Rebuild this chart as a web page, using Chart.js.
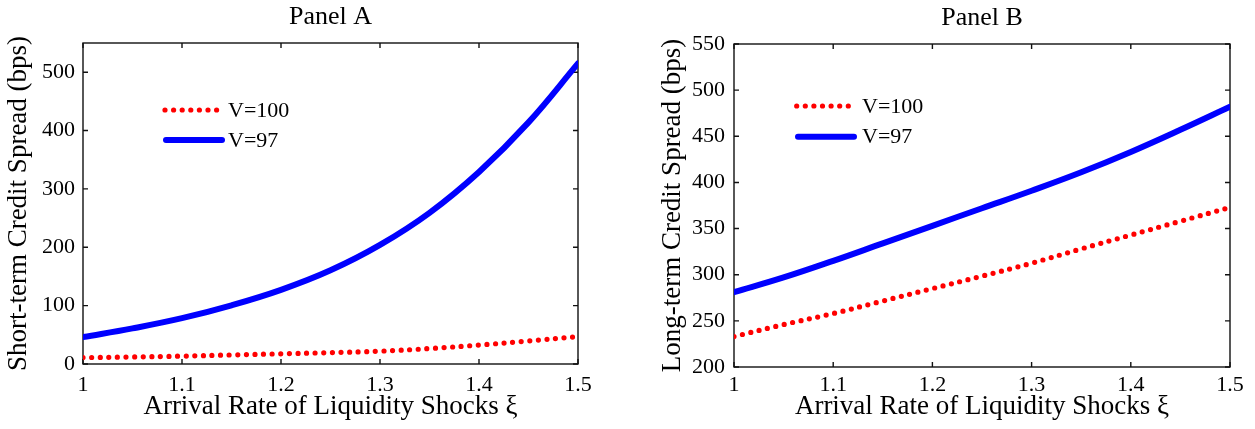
<!DOCTYPE html>
<html>
<head>
<meta charset="utf-8">
<script src="https://cdn.jsdelivr.net/npm/chart.js@4/dist/chart.umd.min.js"></script>
<style>
  html, body { margin: 0; padding: 0; background: #fff; }
  #wrap { position: relative; width: 1255px; height: 429px; overflow: hidden; }
  .panel { position: absolute; top: 0; height: 429px; }
  #pa { left: 0; width: 620px; }
  #pb { left: 630px; width: 625px; }
</style>
</head>
<body>
<div id="wrap">
  <div class="panel" id="pa"><canvas id="ca"></canvas></div>
  <div class="panel" id="pb"><canvas id="cb"></canvas></div>
</div>
<script>
// Arrival rate of liquidity shocks (xi)
const xi = [1.00, 1.05, 1.10, 1.15, 1.20, 1.25, 1.30, 1.35, 1.40, 1.45, 1.50];

// Panel A: short-term credit spread (bps)
const shortV100 = [11, 12, 13.5, 15.5, 17.5, 19.5, 22, 26.5, 32.5, 39.5, 47];
const shortV97  = [46, 61, 78.5, 100.5, 127, 160.5, 204, 259, 329, 414, 515];

// Panel B: long-term credit spread (bps)
const longV100 = [233, 246, 258, 271.5, 285, 298.5, 312.5, 328, 343, 358, 373];
const longV97  = [281, 297, 315, 334, 353, 372, 391, 411, 433, 457, 482];

// Tick labels
const xTicks = [1, 1.1, 1.2, 1.3, 1.4, 1.5];
const yTicksShort = [0, 100, 200, 300, 400, 500];
const yTicksLong = [200, 250, 300, 350, 400, 450, 500, 550];

const seriesLabels = ['V=100', 'V=97'];
const panelTitles = ['Panel A', 'Panel B'];
const xTitle = 'Arrival Rate of Liquidity Shocks \u03BE';
const yTitles = ['Short-term Credit Spread (bps)', 'Long-term Credit Spread (bps)'];

const FONT = "'Liberation Serif', 'Times New Roman', Times, serif";
Chart.defaults.font.family = FONT;
Chart.defaults.color = '#000';

// Box around the plot area with inward tick marks on all four sides
const frame = {
  id: 'frame',
  beforeDatasetsDraw(chart, args, o) {
    const { ctx, chartArea: a, scales: { x, y } } = chart;
    ctx.save();
    ctx.strokeStyle = o.color;
    ctx.lineWidth = o.width;
    ctx.beginPath();
    x.ticks.forEach(t => {
      const px = x.getPixelForValue(t.value);
      ctx.moveTo(px, a.bottom); ctx.lineTo(px, a.bottom - o.tick);
      ctx.moveTo(px, a.top); ctx.lineTo(px, a.top + o.tick);
    });
    y.ticks.forEach(t => {
      const py = y.getPixelForValue(t.value);
      ctx.moveTo(a.left, py); ctx.lineTo(a.left + o.tick, py);
      ctx.moveTo(a.right, py); ctx.lineTo(a.right - o.tick, py);
    });
    ctx.stroke();
    ctx.strokeRect(a.left, a.top, a.right - a.left, a.bottom - a.top);
    ctx.restore();
  }
};

// Line-sample key drawn inside the plot area, styled from each dataset
const keyBox = {
  id: 'keyBox',
  afterDatasetsDraw(chart, args, o) {
    const { ctx, chartArea: a } = chart;
    chart.data.datasets.forEach((ds, i) => {
      const yy = a.top + o.rows[i];
      ctx.save();
      ctx.strokeStyle = ds.borderColor;
      ctx.lineWidth = ds.borderWidth;
      ctx.lineCap = 'round';
      ctx.setLineDash(ds.borderDash || []);
      ctx.beginPath();
      ctx.moveTo(a.left + o.starts[i], yy);
      ctx.lineTo(a.left + o.ends[i], yy);
      ctx.stroke();
      ctx.setLineDash([]);
      ctx.fillStyle = '#000';
      ctx.font = o.font;
      ctx.textAlign = 'left';
      ctx.textBaseline = 'middle';
      ctx.fillText(ds.label, a.left + o.textX, yy + 1);
      ctx.restore();
    });
  }
};

function series(ys) {
  return xi.map((x, i) => ({ x: x, y: ys[i] }));
}

function makeChart(id, cfg) {
  return new Chart(document.getElementById(id), {
    type: 'line',
    data: {
      datasets: [
        {
          label: seriesLabels[0],
          data: series(cfg.v100),
          borderColor: '#ff0000',
          borderWidth: 5.2,
          borderDash: [0, 8.6],
          borderCapStyle: 'round',
          pointRadius: 0,
          pointHoverRadius: 0,
          tension: 0.4,
          fill: false
        },
        {
          label: seriesLabels[1],
          data: series(cfg.v97),
          borderColor: '#0000ff',
          borderWidth: 6,
          borderCapStyle: 'round',
          borderJoinStyle: 'round',
          pointRadius: 0,
          pointHoverRadius: 0,
          tension: 0.4,
          fill: false
        }
      ]
    },
    options: {
      responsive: true,
      maintainAspectRatio: false,
      animation: false,
      events: [],
      layout: { padding: { left: 0, right: cfg.padRight, top: 0, bottom: 0 } },
      scales: {
        x: {
          type: 'linear',
          min: 1,
          max: 1.5,
          afterBuildTicks: s => { s.ticks = xTicks.map(v => ({ value: v })); },
          afterFit: s => { s.height = cfg.xHeight; },
          grid: { display: false, drawTicks: false },
          border: { display: false },
          ticks: {
            font: { size: 22 },
            color: '#000',
            padding: cfg.xTickPad,
            maxRotation: 0,
            autoSkip: false,
            callback: v => String(v)
          },
          title: {
            display: true,
            text: xTitle,
            font: { size: 27 },
            color: '#000',
            padding: { top: 0, bottom: 5.8 }
          }
        },
        y: {
          type: 'linear',
          min: cfg.yMin,
          max: 550,
          afterBuildTicks: s => { s.ticks = cfg.yTicks.map(v => ({ value: v })); },
          afterFit: s => { s.width = cfg.yWidth; },
          grid: { display: false, drawTicks: false },
          border: { display: false },
          ticks: {
            font: { size: 22 },
            color: '#000',
            padding: cfg.yTickPad,
            autoSkip: false
          },
          title: {
            display: true,
            text: cfg.yTitle,
            font: { size: 27 },
            color: '#000',
            padding: { top: cfg.yTitlePad, bottom: 0 }
          }
        }
      },
      plugins: {
        legend: { display: false },
        tooltip: { enabled: false },
        title: {
          display: true,
          fullSize: false,
          text: cfg.title,
          color: '#000',
          font: { size: 26, weight: 'normal' },
          padding: { top: cfg.titlePadTop, bottom: cfg.titlePadBottom }
        },
        frame: { color: '#111', width: 1.4, tick: 5 },
        keyBox: cfg.key
      }
    },
    plugins: [frame, keyBox]
  });
}

makeChart('ca', {
  title: panelTitles[0],
  yTitle: yTitles[0],
  v100: shortV100,
  v97: shortV97,
  yMin: 0,
  yTicks: yTicksShort,
  padRight: 42,
  xHeight: 65,
  yWidth: 83,
  xTickPad: 7.8,
  yTickPad: 8,
  yTitlePad: 2.3,
  titlePadTop: 1.6,
  titlePadBottom: 10.2,
  key: {
    rows: [67, 97],
    starts: [82, 83],
    ends: [135, 139],
    textX: 145,
    font: "22px " + FONT
  }
});

makeChart('cb', {
  title: panelTitles[1],
  yTitle: yTitles[1],
  v100: longV100,
  v97: longV97,
  yMin: 200,
  yTicks: yTicksLong,
  padRight: 25,
  xHeight: 62,
  yWidth: 104,
  xTickPad: 5.3,
  yTickPad: 9,
  yTitlePad: 26.3,
  titlePadTop: 2.6,
  titlePadBottom: 10.2,
  key: {
    rows: [62, 92.7],
    starts: [62.7, 64],
    ends: [116, 120],
    textX: 128,
    font: "22px " + FONT
  }
});
</script>
</body>
</html>
